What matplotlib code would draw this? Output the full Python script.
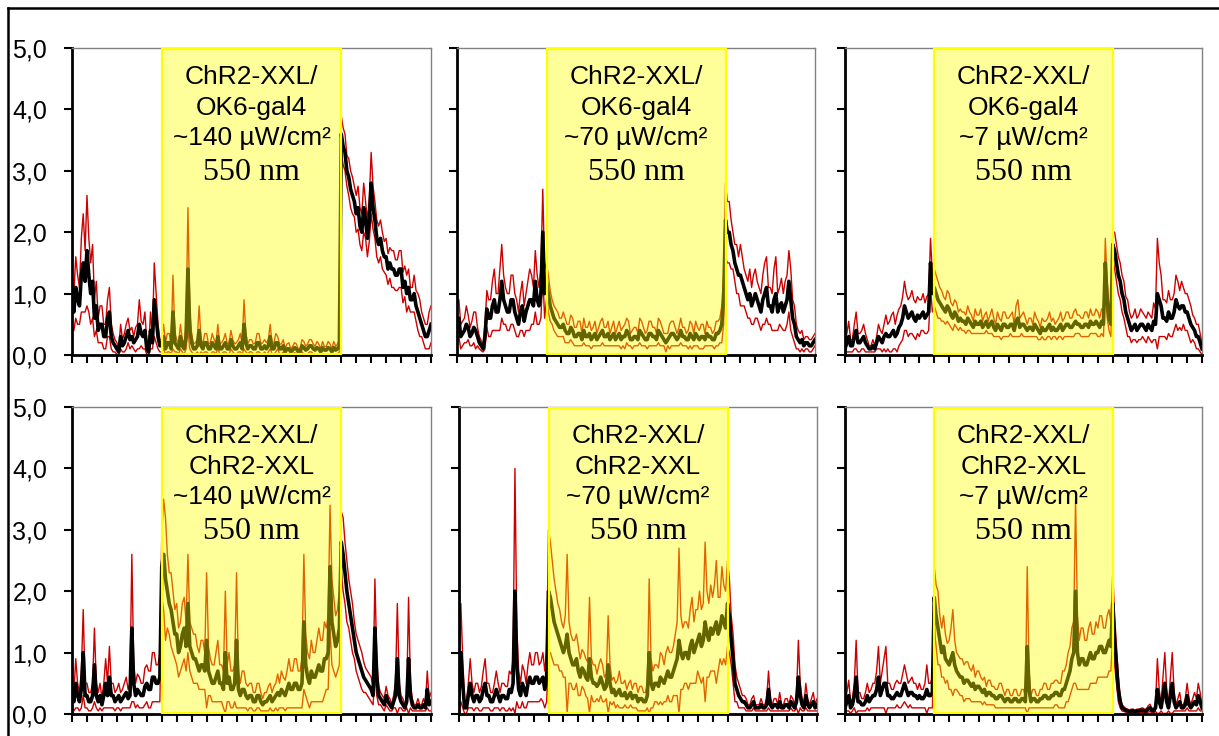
import numpy as np
import matplotlib.pyplot as plt
from matplotlib.patches import Rectangle

# time axis: 0..24 in steps of 0.125, light on between 6 and 18
t = np.arange(193) * 0.125
light_on, light_off = 6, 18

genotypes = ["OK6-gal4", "OK6-gal4", "OK6-gal4", "ChR2-XXL", "ChR2-XXL", "ChR2-XXL"]
intensities = ["~140 µW/cm²", "~70 µW/cm²", "~7 µW/cm²", "~140 µW/cm²", "~70 µW/cm²", "~7 µW/cm²"]

# one row per time unit (8 samples each), last value at t=24
mean_ok6_140 = [
    0.9, 0.7, 1.1, 0.9, 0.8, 1.3, 1.5, 1.2,
    1.7, 1.3, 1.0, 1.2, 0.6, 0.8, 0.4, 0.5,
    0.5, 0.3, 0.3, 0.6, 0.7, 0.3, 0.2, 0.15,
    0.1, 0.05, 0.3, 0.15, 0.2, 0.3, 0.4, 0.25,
    0.3, 0.2, 0.25, 0.3, 0.5, 0.35, 0.3, 0.4,
    0.1, 0.05, 0.4, 0.2, 0.9, 0.6, 0.3, 0.15,
    0.15, 0.3, 0.1, 0.2, 0.2, 0.1, 0.7, 0.2,
    0.15, 0.1, 0.3, 0.15, 0.1, 0.3, 1.4, 0.4,
    0.2, 0.1, 0.1, 0.15, 0.4, 0.15, 0.1, 0.2,
    0.2, 0.1, 0.1, 0.2, 0.15, 0.1, 0.3, 0.1,
    0.1, 0.15, 0.2, 0.1, 0.1, 0.25, 0.15, 0.1,
    0.1, 0.15, 0.2, 0.1, 0.5, 0.2, 0.1, 0.15,
    0.15, 0.1, 0.1, 0.2, 0.2, 0.1, 0.1, 0.15,
    0.1, 0.15, 0.3, 0.1, 0.1, 0.2, 0.2, 0.1,
    0.1, 0.15, 0.05, 0.1, 0.1, 0.05, 0.08, 0.12,
    0.1, 0.05, 0.05, 0.15, 0.12, 0.08, 0.1, 0.15,
    0.15, 0.1, 0.08, 0.12, 0.1, 0.05, 0.12, 0.08,
    0.08, 0.12, 0.1, 0.05, 0.12, 0.08, 0.1, 0.15,
    3.6, 3.4, 3.3, 3.0, 2.9, 2.7, 2.6, 2.5,
    2.3, 2.4, 2.1, 2.0, 2.4, 2.2, 1.9, 2.2,
    2.8, 2.4, 2.2, 1.9, 1.8, 1.9, 1.7, 1.6,
    1.6, 1.4, 1.5, 1.4, 1.4, 1.3, 1.3, 1.4,
    1.4, 1.1, 1.2, 1.0, 1.1, 0.9, 0.9, 1.0,
    0.8, 0.7, 0.6, 0.5, 0.4, 0.3, 0.3, 0.4,
    0.5]
sd_ok6_140 = [
    0.4, 0.3, 0.5, 0.4, 0.3, 0.6, 0.8, 0.5,
    0.9, 0.6, 0.5, 0.6, 0.3, 0.4, 0.2, 0.3,
    0.3, 0.2, 0.2, 0.3, 0.4, 0.2, 0.15, 0.1,
    0.1, 0.05, 0.2, 0.1, 0.15, 0.2, 0.2, 0.15,
    0.15, 0.1, 0.2, 0.2, 0.4, 0.2, 0.2, 0.3,
    0.1, 0.05, 0.3, 0.1, 0.6, 0.4, 0.2, 0.1,
    0.1, 0.2, 0.1, 0.15, 0.15, 0.08, 0.6, 0.15,
    0.1, 0.08, 0.2, 0.1, 0.1, 0.2, 1.0, 0.3,
    0.15, 0.08, 0.1, 0.1, 0.4, 0.1, 0.08, 0.15,
    0.15, 0.08, 0.1, 0.15, 0.1, 0.08, 0.2, 0.08,
    0.1, 0.1, 0.15, 0.08, 0.1, 0.15, 0.1, 0.08,
    0.1, 0.1, 0.15, 0.08, 0.4, 0.15, 0.08, 0.1,
    0.1, 0.08, 0.1, 0.15, 0.15, 0.08, 0.1, 0.1,
    0.1, 0.1, 0.2, 0.08, 0.1, 0.15, 0.1, 0.08,
    0.08, 0.1, 0.05, 0.08, 0.1, 0.05, 0.06, 0.08,
    0.08, 0.05, 0.05, 0.1, 0.1, 0.06, 0.08, 0.1,
    0.1, 0.08, 0.06, 0.1, 0.08, 0.05, 0.1, 0.06,
    0.06, 0.1, 0.08, 0.05, 0.1, 0.06, 0.08, 0.1,
    0.3, 0.3, 0.3, 0.25, 0.3, 0.3, 0.3, 0.25,
    0.3, 0.35, 0.3, 0.3, 0.4, 0.3, 0.3, 0.35,
    0.5, 0.35, 0.3, 0.3, 0.3, 0.3, 0.3, 0.25,
    0.3, 0.25, 0.25, 0.3, 0.3, 0.25, 0.25, 0.3,
    0.3, 0.25, 0.25, 0.3, 0.3, 0.2, 0.2, 0.3,
    0.25, 0.3, 0.3, 0.2, 0.2, 0.2, 0.2, 0.3,
    0.3]

mean_ok6_70 = [
    0.5, 0.6, 0.3, 0.35, 0.4, 0.5, 0.45, 0.3,
    0.35, 0.45, 0.4, 0.3, 0.2, 0.15, 0.1, 0.3,
    0.75, 0.6, 0.6, 0.8, 0.9, 0.7, 0.7, 0.9,
    1.2, 0.9, 0.8, 0.7, 0.7, 0.9, 0.9, 0.7,
    0.6, 0.5, 0.7, 0.8, 0.55, 0.7, 0.8, 0.9,
    0.9, 0.8, 1.2, 0.9, 0.8, 1.0, 2.0, 1.0,
    1.2, 1.0, 0.8, 0.7, 0.6, 0.55, 0.5, 0.45,
    0.45, 0.5, 0.4, 0.35, 0.35, 0.45, 0.4, 0.3,
    0.3, 0.35, 0.35, 0.25, 0.4, 0.3, 0.3, 0.35,
    0.25, 0.3, 0.35, 0.25, 0.3, 0.35, 0.4, 0.3,
    0.3, 0.35, 0.25, 0.3, 0.35, 0.25, 0.3, 0.35,
    0.25, 0.3, 0.3, 0.4, 0.35, 0.25, 0.25, 0.3,
    0.3, 0.25, 0.4, 0.35, 0.3, 0.25, 0.25, 0.35,
    0.35, 0.3, 0.3, 0.25, 0.4, 0.35, 0.3, 0.25,
    0.2, 0.25, 0.3, 0.35, 0.35, 0.3, 0.25, 0.3,
    0.4, 0.3, 0.3, 0.25, 0.25, 0.35, 0.3, 0.25,
    0.35, 0.3, 0.25, 0.3, 0.3, 0.25, 0.35, 0.3,
    0.3, 0.25, 0.25, 0.35, 0.35, 0.4, 0.5, 0.9,
    2.2, 2.0, 2.0, 1.8, 1.7, 1.5, 1.4, 1.3,
    1.3, 1.2, 1.1, 1.0, 0.9, 1.0, 0.8, 0.9,
    1.0, 0.9, 0.8, 0.7, 0.9, 1.0, 1.1, 0.8,
    0.8, 0.7, 0.9, 1.0, 0.7, 0.8, 0.85, 0.7,
    0.8, 0.9, 1.2, 0.9, 0.6, 0.5, 0.3, 0.25,
    0.2, 0.25, 0.15, 0.2, 0.2, 0.15, 0.15, 0.2,
    0.25]
sd_ok6_70 = [
    0.3, 0.3, 0.2, 0.2, 0.2, 0.3, 0.2, 0.15,
    0.2, 0.25, 0.3, 0.15, 0.1, 0.08, 0.05, 0.2,
    0.3, 0.3, 0.3, 0.4, 0.5, 0.3, 0.3, 0.5,
    0.6, 0.4, 0.3, 0.3, 0.3, 0.4, 0.4, 0.3,
    0.3, 0.2, 0.3, 0.4, 0.25, 0.3, 0.4, 0.5,
    0.4, 0.3, 0.5, 0.4, 0.3, 0.4, 0.7, 0.4,
    0.3, 0.3, 0.25, 0.2, 0.2, 0.2, 0.2, 0.15,
    0.15, 0.2, 0.2, 0.15, 0.15, 0.2, 0.2, 0.15,
    0.15, 0.2, 0.2, 0.1, 0.2, 0.15, 0.15, 0.2,
    0.15, 0.15, 0.2, 0.1, 0.15, 0.2, 0.2, 0.15,
    0.15, 0.2, 0.1, 0.15, 0.2, 0.1, 0.15, 0.2,
    0.15, 0.15, 0.2, 0.2, 0.2, 0.1, 0.15, 0.15,
    0.15, 0.1, 0.2, 0.2, 0.15, 0.1, 0.15, 0.2,
    0.2, 0.15, 0.15, 0.1, 0.2, 0.2, 0.15, 0.1,
    0.15, 0.1, 0.2, 0.2, 0.2, 0.15, 0.1, 0.15,
    0.2, 0.15, 0.15, 0.1, 0.15, 0.2, 0.2, 0.1,
    0.2, 0.15, 0.15, 0.2, 0.2, 0.1, 0.2, 0.15,
    0.15, 0.1, 0.15, 0.2, 0.2, 0.2, 0.3, 0.4,
    0.6, 0.5, 0.5, 0.4, 0.3, 0.3, 0.4, 0.3,
    0.5, 0.4, 0.3, 0.3, 0.3, 0.4, 0.3, 0.4,
    0.4, 0.3, 0.3, 0.3, 0.4, 0.5, 0.5, 0.3,
    0.3, 0.3, 0.5, 0.6, 0.3, 0.3, 0.4, 0.3,
    0.4, 0.4, 0.5, 0.5, 0.3, 0.3, 0.2, 0.15,
    0.15, 0.15, 0.1, 0.1, 0.1, 0.1, 0.1, 0.1,
    0.1]

mean_ok6_7 = [
    0.1, 0.2, 0.3, 0.15, 0.15, 0.3, 0.4, 0.2,
    0.2, 0.25, 0.3, 0.2, 0.15, 0.1, 0.1, 0.15,
    0.1, 0.2, 0.3, 0.25, 0.2, 0.3, 0.35, 0.3,
    0.3, 0.35, 0.4, 0.3, 0.35, 0.45, 0.5, 0.6,
    0.8, 0.7, 0.6, 0.65, 0.7, 0.6, 0.55, 0.65,
    0.6, 0.65, 0.7, 0.6, 0.65, 0.7, 1.5, 1.0,
    1.1, 1.0, 0.9, 0.85, 0.8, 0.75, 0.7, 0.8,
    0.75, 0.65, 0.6, 0.7, 0.65, 0.55, 0.6, 0.55,
    0.55, 0.5, 0.6, 0.55, 0.5, 0.45, 0.55, 0.5,
    0.5, 0.55, 0.45, 0.5, 0.55, 0.45, 0.5, 0.55,
    0.45, 0.4, 0.5, 0.45, 0.4, 0.5, 0.5, 0.45,
    0.45, 0.5, 0.5, 0.4, 0.55, 0.6, 0.45, 0.5,
    0.5, 0.45, 0.4, 0.45, 0.45, 0.4, 0.5, 0.45,
    0.4, 0.35, 0.45, 0.4, 0.4, 0.45, 0.5, 0.4,
    0.45, 0.4, 0.4, 0.45, 0.5, 0.4, 0.45, 0.5,
    0.5, 0.45, 0.45, 0.5, 0.55, 0.5, 0.5, 0.45,
    0.45, 0.5, 0.5, 0.45, 0.55, 0.5, 0.5, 0.55,
    0.5, 0.45, 0.55, 0.5, 1.5, 0.9, 0.6, 0.5,
    1.8, 1.7, 1.5, 1.3, 1.2, 1.0, 0.9, 0.7,
    0.6, 0.5, 0.4, 0.45, 0.5, 0.4, 0.45, 0.5,
    0.5, 0.45, 0.4, 0.5, 0.45, 0.4, 0.55, 0.5,
    1.0, 0.9, 0.8, 0.6, 0.6, 0.55, 0.7, 0.6,
    0.6, 0.7, 0.9, 0.8, 0.75, 0.8, 0.8, 0.7,
    0.7, 0.6, 0.5, 0.45, 0.4, 0.3, 0.3, 0.2,
    0.1]
sd_ok6_7 = [
    0.1, 0.15, 0.25, 0.1, 0.1, 0.2, 0.3, 0.15,
    0.15, 0.15, 0.2, 0.15, 0.1, 0.05, 0.05, 0.1,
    0.05, 0.1, 0.2, 0.15, 0.15, 0.2, 0.3, 0.2,
    0.25, 0.3, 0.3, 0.2, 0.3, 0.3, 0.3, 0.35,
    0.4, 0.3, 0.3, 0.3, 0.35, 0.3, 0.3, 0.3,
    0.3, 0.25, 0.3, 0.25, 0.3, 0.3, 0.4, 0.3,
    0.3, 0.3, 0.3, 0.25, 0.25, 0.2, 0.2, 0.25,
    0.25, 0.2, 0.2, 0.2, 0.2, 0.15, 0.15, 0.15,
    0.15, 0.15, 0.2, 0.15, 0.15, 0.1, 0.2, 0.15,
    0.15, 0.2, 0.1, 0.15, 0.15, 0.1, 0.15, 0.2,
    0.15, 0.1, 0.2, 0.15, 0.15, 0.2, 0.2, 0.15,
    0.15, 0.15, 0.2, 0.1, 0.25, 0.3, 0.15, 0.15,
    0.2, 0.15, 0.1, 0.15, 0.15, 0.1, 0.2, 0.15,
    0.15, 0.1, 0.15, 0.15, 0.15, 0.15, 0.2, 0.15,
    0.15, 0.1, 0.15, 0.15, 0.2, 0.15, 0.15, 0.2,
    0.2, 0.15, 0.15, 0.2, 0.2, 0.15, 0.15, 0.15,
    0.15, 0.2, 0.2, 0.15, 0.2, 0.15, 0.15, 0.2,
    0.2, 0.15, 0.2, 0.2, 0.4, 0.3, 0.2, 0.2,
    0.2, 0.3, 0.3, 0.3, 0.3, 0.3, 0.3, 0.25,
    0.3, 0.2, 0.2, 0.2, 0.25, 0.2, 0.2, 0.25,
    0.2, 0.2, 0.2, 0.2, 0.2, 0.2, 0.3, 0.25,
    0.9, 0.6, 0.5, 0.3, 0.3, 0.3, 0.35, 0.3,
    0.3, 0.3, 0.4, 0.4, 0.3, 0.4, 0.3, 0.3,
    0.3, 0.3, 0.3, 0.2, 0.2, 0.2, 0.2, 0.15,
    0.1]

mean_xxl_140 = [
    0.3, 0.2, 0.5, 0.3, 0.2, 0.4, 1.0, 0.3,
    0.3, 0.2, 0.2, 0.3, 0.8, 0.3, 0.2, 0.3,
    0.15, 0.3, 0.5, 0.3, 0.6, 0.3, 0.3, 0.2,
    0.25, 0.3, 0.2, 0.25, 0.3, 0.35, 0.25, 0.3,
    1.4, 0.5, 0.3, 0.4, 0.35, 0.3, 0.3, 0.45,
    0.5, 0.4, 0.4, 0.6, 0.6, 0.5, 0.5, 0.6,
    2.4, 2.6, 2.2, 2.0, 1.8, 1.7, 1.5, 1.3,
    1.3, 1.0, 1.1, 1.3, 1.4, 1.1, 1.8, 1.1,
    1.0, 0.9, 0.9, 0.8, 0.7, 0.8, 0.8, 0.7,
    1.2, 0.7, 0.6, 0.5, 0.5, 0.6, 0.7, 0.5,
    0.5, 0.4, 1.0, 0.5, 0.6, 0.4, 0.4, 0.5,
    1.2, 0.4, 0.3, 0.4, 0.4, 0.3, 0.25, 0.3,
    0.3, 0.2, 0.2, 0.3, 0.3, 0.2, 0.15, 0.2,
    0.2, 0.25, 0.3, 0.2, 0.25, 0.3, 0.35, 0.3,
    0.4, 0.35, 0.3, 0.4, 0.5, 0.4, 0.4, 0.5,
    0.5, 0.4, 0.4, 0.5, 1.5, 0.8, 0.6, 0.5,
    0.7, 0.6, 0.6, 0.7, 0.8, 0.7, 0.7, 0.9,
    0.9, 1.0, 2.4, 1.5, 1.3, 1.1, 1.2, 1.4,
    2.8, 2.6, 2.3, 2.0, 1.8, 1.6, 1.4, 1.2,
    1.0, 0.9, 0.8, 0.7, 0.6, 0.55, 0.5, 0.45,
    0.4, 0.3, 1.4, 0.6, 0.3, 0.25, 0.2, 0.15,
    0.3, 0.2, 0.15, 0.1, 0.2, 0.3, 0.9, 0.3,
    0.2, 0.15, 0.1, 0.2, 0.9, 0.3, 0.15, 0.1,
    0.1, 0.15, 0.1, 0.1, 0.15, 0.1, 0.4, 0.15,
    0.2]
sd_xxl_140 = [
    0.2, 0.15, 0.4, 0.2, 0.15, 0.3, 0.7, 0.2,
    0.2, 0.15, 0.15, 0.2, 0.6, 0.2, 0.15, 0.2,
    0.1, 0.2, 0.4, 0.2, 0.5, 0.2, 0.2, 0.15,
    0.15, 0.2, 0.15, 0.15, 0.2, 0.25, 0.15, 0.2,
    1.2, 0.3, 0.2, 0.25, 0.25, 0.2, 0.2, 0.3,
    0.3, 0.3, 0.3, 0.4, 0.4, 0.3, 0.3, 0.4,
    0.5, 0.9, 1.0, 0.6, 0.5, 0.6, 0.5, 0.4,
    0.5, 0.4, 0.4, 0.5, 0.5, 0.4, 0.8, 0.4,
    0.4, 0.4, 0.4, 0.3, 0.3, 0.4, 0.4, 0.3,
    1.1, 0.4, 0.3, 0.3, 0.3, 0.4, 0.5, 0.3,
    0.3, 0.3, 1.0, 0.3, 0.4, 0.3, 0.3, 0.3,
    1.1, 0.3, 0.2, 0.3, 0.3, 0.2, 0.2, 0.2,
    0.2, 0.15, 0.15, 0.2, 0.2, 0.15, 0.1, 0.15,
    0.15, 0.2, 0.2, 0.15, 0.2, 0.2, 0.3, 0.2,
    0.3, 0.25, 0.25, 0.3, 0.4, 0.3, 0.3, 0.4,
    0.4, 0.3, 0.3, 0.4, 1.1, 0.5, 0.4, 0.4,
    0.5, 0.4, 0.4, 0.5, 0.6, 0.5, 0.5, 0.6,
    0.5, 0.6, 1.0, 0.7, 0.6, 0.5, 0.5, 0.6,
    0.5, 0.6, 0.5, 0.5, 0.4, 0.4, 0.4, 0.3,
    0.3, 0.3, 0.3, 0.3, 0.25, 0.2, 0.2, 0.2,
    0.2, 0.15, 0.8, 0.3, 0.15, 0.1, 0.1, 0.1,
    0.15, 0.1, 0.1, 0.05, 0.1, 0.2, 0.9, 0.2,
    0.1, 0.1, 0.05, 0.1, 1.0, 0.2, 0.1, 0.05,
    0.05, 0.1, 0.05, 0.05, 0.1, 0.05, 0.3, 0.1,
    0.15]

mean_xxl_70 = [
    0.3, 1.0, 0.5, 0.1, 0.1, 0.3, 0.5, 0.3,
    0.2, 0.3, 0.3, 0.2, 0.25, 0.4, 0.5, 0.3,
    0.3, 0.2, 0.2, 0.3, 0.4, 0.3, 0.2, 0.3,
    0.3, 0.25, 0.25, 0.4, 0.35, 0.5, 2.0, 0.8,
    0.4, 0.3, 0.5, 0.4, 0.3, 0.5, 0.6, 0.5,
    0.5, 0.6, 0.6, 0.5, 0.55, 0.6, 0.4, 0.6,
    2.0, 1.9, 1.7, 1.5, 1.4, 1.3, 1.2, 1.1,
    1.0, 1.1, 1.3, 1.0, 0.9, 0.8, 0.8, 0.9,
    0.7, 0.6, 0.75, 0.7, 0.6, 0.55, 0.9, 0.6,
    0.5, 0.5, 0.45, 0.5, 0.6, 0.5, 0.4, 0.45,
    0.8, 0.5, 0.35, 0.4, 0.3, 0.35, 0.4, 0.3,
    0.3, 0.35, 0.25, 0.3, 0.35, 0.25, 0.3, 0.3,
    0.2, 0.25, 0.25, 0.2, 0.2, 0.3, 1.0, 0.5,
    0.4, 0.5, 0.5, 0.45, 0.6, 0.55, 0.5, 0.6,
    0.7, 0.6, 0.6, 0.7, 0.8, 0.9, 1.2, 1.0,
    0.9, 1.0, 1.0, 0.9, 1.1, 1.2, 1.0, 1.1,
    1.2, 1.3, 1.1, 1.2, 1.5, 1.3, 1.2, 1.4,
    1.3, 1.4, 1.5, 1.3, 1.4, 1.6, 1.5, 1.4,
    1.8, 1.6, 1.2, 0.9, 0.5, 0.4, 0.3, 0.25,
    0.2, 0.2, 0.15, 0.1, 0.1, 0.15, 0.2, 0.1,
    0.1, 0.1, 0.15, 0.1, 0.1, 0.15, 0.4, 0.15,
    0.1, 0.15, 0.15, 0.1, 0.2, 0.1, 0.1, 0.15,
    0.15, 0.1, 0.2, 0.15, 0.1, 0.2, 0.6, 0.3,
    0.15, 0.1, 0.3, 0.15, 0.1, 0.15, 0.2, 0.1,
    0.15]
sd_xxl_70 = [
    0.3, 0.8, 0.4, 0.1, 0.1, 0.2, 0.4, 0.2,
    0.15, 0.2, 0.2, 0.15, 0.2, 0.3, 0.4, 0.2,
    0.2, 0.15, 0.15, 0.2, 0.3, 0.2, 0.15, 0.2,
    0.2, 0.2, 0.2, 0.3, 0.3, 0.4, 2.0, 0.6,
    0.3, 0.2, 0.3, 0.3, 0.2, 0.3, 0.4, 0.3,
    0.3, 0.4, 0.4, 0.3, 0.3, 0.4, 0.3, 0.4,
    1.0, 0.9, 0.8, 0.7, 0.6, 0.5, 0.5, 0.4,
    0.4, 0.5, 1.3, 0.5, 0.4, 0.4, 0.4, 0.4,
    0.4, 0.3, 0.3, 0.3, 0.3, 0.3, 1.0, 0.3,
    0.3, 0.3, 0.2, 0.3, 0.3, 0.3, 0.2, 0.2,
    0.8, 0.3, 0.2, 0.2, 0.2, 0.2, 0.3, 0.2,
    0.2, 0.2, 0.15, 0.2, 0.2, 0.15, 0.2, 0.2,
    0.15, 0.2, 0.2, 0.15, 0.15, 0.2, 1.2, 0.4,
    0.3, 0.3, 0.3, 0.3, 0.4, 0.4, 0.3, 0.4,
    0.4, 0.4, 0.4, 0.4, 0.5, 0.6, 1.5, 0.6,
    0.5, 0.5, 0.5, 0.5, 0.6, 0.7, 0.5, 0.6,
    0.5, 0.7, 0.6, 0.6, 1.3, 0.7, 0.6, 0.7,
    0.6, 0.7, 1.0, 0.6, 0.5, 0.8, 0.6, 0.6,
    0.7, 0.6, 0.4, 0.4, 0.3, 0.2, 0.2, 0.15,
    0.1, 0.1, 0.1, 0.05, 0.05, 0.1, 0.1, 0.05,
    0.05, 0.05, 0.1, 0.05, 0.05, 0.1, 0.3, 0.1,
    0.05, 0.1, 0.1, 0.05, 0.15, 0.05, 0.05, 0.1,
    0.1, 0.05, 0.1, 0.1, 0.05, 0.1, 0.6, 0.2,
    0.1, 0.05, 0.2, 0.1, 0.05, 0.1, 0.15, 0.05,
    0.1]

mean_xxl_7 = [
    0.1, 0.2, 0.3, 0.1, 0.15, 0.3, 0.6, 0.2,
    0.2, 0.15, 0.15, 0.2, 0.3, 0.2, 0.25, 0.3,
    0.3, 0.4, 0.6, 0.3, 0.4, 0.5, 0.5, 0.3,
    0.3, 0.25, 0.25, 0.3, 0.35, 0.3, 0.3, 0.4,
    0.5, 0.4, 0.3, 0.35, 0.35, 0.3, 0.3, 0.25,
    0.3, 0.25, 0.25, 0.3, 0.4, 0.3, 0.3, 0.35,
    1.9, 1.6, 1.4, 1.2, 1.0, 1.1, 0.9, 0.85,
    0.8, 0.9, 1.0, 0.8, 0.7, 0.65, 0.6, 0.6,
    0.5, 0.55, 0.55, 0.5, 0.45, 0.5, 0.4, 0.45,
    0.45, 0.4, 0.35, 0.4, 0.3, 0.35, 0.35, 0.3,
    0.3, 0.25, 0.25, 0.3, 0.3, 0.25, 0.2, 0.25,
    0.25, 0.2, 0.2, 0.25, 0.25, 0.2, 0.2, 0.25,
    0.25, 0.2, 1.1, 0.4, 0.2, 0.25, 0.25, 0.2,
    0.2, 0.25, 0.25, 0.3, 0.3, 0.25, 0.25, 0.3,
    0.3, 0.35, 0.35, 0.3, 0.3, 0.4, 0.4, 0.5,
    0.6, 0.7, 0.9, 1.0, 2.0, 1.0, 0.8, 0.9,
    0.9, 0.8, 0.8, 0.9, 1.0, 0.9, 0.9, 1.0,
    1.0, 1.1, 1.1, 1.0, 1.0, 1.1, 1.2, 1.1,
    1.8, 1.2, 0.8, 0.4, 0.2, 0.1, 0.08, 0.06,
    0.05, 0.04, 0.05, 0.05, 0.04, 0.05, 0.05, 0.06,
    0.06, 0.05, 0.05, 0.08, 0.1, 0.06, 0.05, 0.1,
    0.4, 0.2, 0.1, 0.3, 0.5, 0.2, 0.1, 0.3,
    0.5, 0.2, 0.1, 0.15, 0.2, 0.1, 0.1, 0.15,
    0.3, 0.15, 0.1, 0.15, 0.2, 0.15, 0.3, 0.2,
    0.1]
sd_xxl_7 = [
    0.1, 0.15, 0.25, 0.1, 0.1, 0.2, 0.6, 0.15,
    0.15, 0.1, 0.1, 0.15, 0.2, 0.15, 0.15, 0.2,
    0.2, 0.3, 0.5, 0.2, 0.3, 0.4, 0.6, 0.2,
    0.2, 0.15, 0.15, 0.2, 0.2, 0.2, 0.2, 0.25,
    0.3, 0.25, 0.2, 0.2, 0.25, 0.2, 0.2, 0.15,
    0.2, 0.15, 0.15, 0.2, 0.4, 0.2, 0.2, 0.25,
    0.5, 0.5, 0.6, 0.4, 0.4, 0.5, 0.4, 0.3,
    0.4, 0.5, 0.7, 0.4, 0.3, 0.3, 0.3, 0.3,
    0.3, 0.3, 0.3, 0.25, 0.25, 0.3, 0.2, 0.25,
    0.25, 0.2, 0.2, 0.2, 0.15, 0.2, 0.2, 0.15,
    0.15, 0.15, 0.15, 0.2, 0.2, 0.15, 0.1, 0.15,
    0.15, 0.1, 0.1, 0.15, 0.15, 0.1, 0.1, 0.15,
    0.15, 0.1, 1.3, 0.3, 0.1, 0.15, 0.15, 0.1,
    0.1, 0.15, 0.15, 0.2, 0.2, 0.15, 0.15, 0.2,
    0.2, 0.2, 0.2, 0.2, 0.2, 0.3, 0.3, 0.3,
    0.4, 0.4, 0.5, 0.5, 1.5, 0.6, 0.4, 0.5,
    0.5, 0.4, 0.4, 0.5, 0.5, 0.4, 0.4, 0.5,
    0.4, 0.5, 0.5, 0.4, 0.4, 0.5, 0.5, 0.4,
    0.5, 0.4, 0.3, 0.2, 0.1, 0.05, 0.04, 0.03,
    0.03, 0.02, 0.03, 0.03, 0.02, 0.03, 0.03, 0.03,
    0.04, 0.03, 0.03, 0.05, 0.06, 0.04, 0.03, 0.06,
    0.5, 0.2, 0.05, 0.3, 0.5, 0.2, 0.05, 0.3,
    0.5, 0.15, 0.05, 0.1, 0.15, 0.05, 0.05, 0.1,
    0.2, 0.1, 0.05, 0.1, 0.15, 0.1, 0.2, 0.15,
    0.05]

means = [mean_ok6_140, mean_ok6_70, mean_ok6_7, mean_xxl_140, mean_xxl_70, mean_xxl_7]
sds = [sd_ok6_140, sd_ok6_70, sd_ok6_7, sd_xxl_140, sd_xxl_70, sd_xxl_7]

W, H = 1219, 736
fig = plt.figure(figsize=(W / 100, H / 100), dpi=100)

# axes rectangles in pixels: left, top, right, bottom
boxes = [(72, 48, 431, 355), (457, 48, 815, 355), (845, 48, 1202, 355),
         (72, 407, 431, 714), (459, 407, 817, 714), (845, 407, 1202, 714)]

sans = "Liberation Sans"
serif = "Liberation Serif"

for i, (l, tp, r, b) in enumerate(boxes):
    ax = fig.add_axes([l / W, 1 - b / H, (r - l) / W, (b - tp) / H])
    m = np.array(means[i])
    s = np.array(sds[i])
    n = min(len(m), len(s), len(t))
    tt, m, s = t[:n], m[:n], s[:n]
    ax.plot(tt, m + s, color="#cc0000", lw=1.0, zorder=2)
    ax.plot(tt, np.clip(m - s, 0.01, None), color="#cc0000", lw=1.0, zorder=2)
    ax.plot(tt, m, color="black", lw=2.6, zorder=3)

    ax.add_patch(Rectangle((light_on, 0.02), light_off - light_on, 4.96,
                           facecolor="#ffff00", alpha=0.4, edgecolor="none", zorder=4))
    ax.add_patch(Rectangle((light_on, 0.02), light_off - light_on, 4.96,
                           fill=False, edgecolor="#ffff00", lw=1.6, zorder=5))

    mid = (light_on + light_off) / 2
    ax.text(mid, 4.52, "ChR2-XXL/", ha="center", va="center", fontsize=19, family=sans, zorder=6)
    ax.text(mid, 4.03, genotypes[i], ha="center", va="center", fontsize=19, family=sans, zorder=6)
    ax.text(mid, 3.54, intensities[i], ha="center", va="center", fontsize=19, family=sans, zorder=6)
    ax.text(mid, 2.97, "550 nm", ha="center", va="center", fontsize=23, family=serif, zorder=6)

    ax.set_xlim(0, 24)
    ax.set_ylim(0, 5)
    ax.set_xticks(np.arange(0, 25, 1))
    ax.set_xticklabels([])
    ax.set_yticks(np.arange(0, 5.1, 1))
    if i % 3 == 0:
        ax.set_yticklabels(["0,0", "1,0", "2,0", "3,0", "4,0", "5,0"], family=sans, fontsize=18)
    else:
        ax.set_yticklabels([])
    ax.tick_params(direction="out", length=6, width=1.5, color="black", pad=12)
    for side in ("left", "bottom"):
        ax.spines[side].set_linewidth(2)
        ax.spines[side].set_color("black")
    for side in ("top", "right"):
        ax.spines[side].set_linewidth(1)
        ax.spines[side].set_color("#808080")

# outer frame around the figure
fig.add_artist(plt.Line2D([8 / W, 1], [1 - 8 / H, 1 - 8 / H], color="black", lw=1.8))
fig.add_artist(plt.Line2D([8 / W, 8 / W], [0, 1 - 8 / H], color="black", lw=1.8))

fig.savefig("out.png", dpi=100)
